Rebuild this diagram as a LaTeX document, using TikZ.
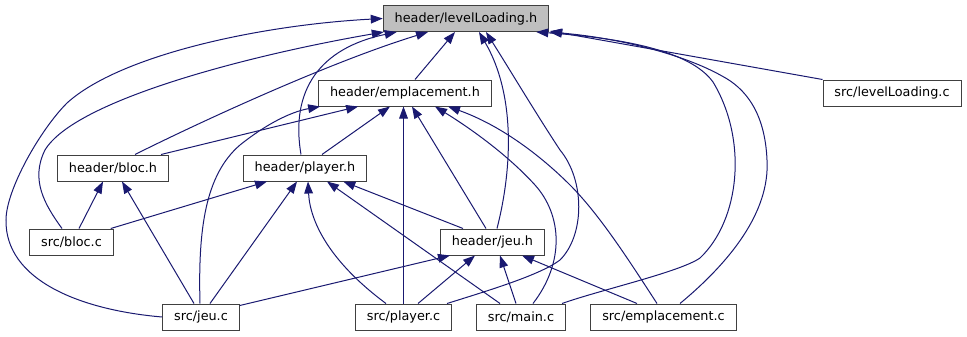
\documentclass[tikz,border=0pt]{standalone}
\usepackage{fontspec}
\setmainfont{DejaVu Sans}
\usepackage{xcolor}
\usetikzlibrary{positioning,arrows.meta,calc}
\definecolor{incblue}{HTML}{191970}
\definecolor{mainfill}{HTML}{BFBFBF}

\begin{document}
\begin{tikzpicture}[x=0.75pt,y=-0.75pt,
                    file/.style={draw=black!75,line width=0.75pt,fill=white,
                                 minimum height=19.5pt,inner xsep=8.6pt,inner ysep=0pt,
                                 font=\fontsize{9.6}{11}\selectfont},
                    dep/.style={draw=incblue,line width=0.75pt,
                                -{Triangle[length=9pt,width=6.5pt]}}]

  \useasboundingbox (0,0) rectangle (967,336);

  \node[file,fill=mainfill] (LLh)   at (466,18.5)  {header/levelLoading.h};
  \node[file]               (Emh)   at (405,93)    {header/emplacement.h};
  \node[file]               (LLc)   at (892,93)    {src/levelLoading.c};
  \node[file]               (Bloch) at (113,168)   {header/bloc.h};
  \node[file]               (Playh) at (305,168)   {header/player.h};
  \node[file]               (Blocc) at (71.5,242)  {src/bloc.c};
  \node[file]               (Jeuh)  at (492.5,242) {header/jeu.h};
  \node[file]               (Jeuc)  at (201,317)   {src/jeu.c};
  \node[file]               (Playc) at (403.5,317) {src/player.c};
  \node[file]               (Mainc) at (521,317)   {src/main.c};
  \node[file]               (Empc)  at (663.5,317) {src/emplacement.c};

  % who includes header/levelLoading.h
  \draw[dep] ($(Emh.north)+(10,0)$) -- ($(LLh.south)+(-11,0)$);
  \draw[dep] ($(Bloch.north)+(22,0)$) .. controls (200,122) and (330,62) .. ($(LLh.south)+(-38,0)$);
  \draw[dep] ($(Blocc.north)+(-9.5,0)$) .. controls (45,205) and (30,180) .. (45,150)
             .. controls (75,100) and (250,55) .. ($(LLh.south west)+(1,0)$);
  \draw[dep] (Jeuc.west) .. controls (80,310) and (5,280) .. (6,220)
             .. controls (6,190) and (40,130) .. (67,103)
             .. controls (120,55) and (260,25) .. (LLh.west);
  \draw[dep] ($(Playh.north)+(-4,0)$) .. controls (290,90) and (320,48) .. ($(LLh.south west)+(14,0)$);
  \draw[dep] ($(Jeuh.north)+(4.5,0)$) .. controls (512,170) and (516,95) .. ($(LLh.south)+(13,0)$);
  \draw[dep] ($(Playc.north east)+(-5,0)$) .. controls (490,290) and (540,275) .. (560,260)
             .. controls (585,235) and (585,180) .. (560,150)
             .. controls (535,112) and (510,70) .. ($(LLh.south)+(20,0)$);
  \draw[dep] ($(Mainc.north east)+(-4,0)$) .. controls (600,290) and (680,272) .. (700,258)
             .. controls (740,220) and (748,140) .. (713,82)
             .. controls (690,50) and (620,38) .. ($(LLh.south east)+(-13,0)$);
  \draw[dep] ($(Empc.north)+(16.5,0)$) .. controls (730,262) and (770,212) .. (767,160)
             .. controls (765,112) and (745,88) .. (722,76)
             .. controls (685,55) and (620,38) .. (LLh.south east);
  \draw[dep] (LLc.north west) -- ($(LLh.south east)+(1,-1)$);

  % who includes header/emplacement.h
  \draw[dep] ($(Bloch.north east)+(-8,0)$) -- ($(Emh.south west)+(40,0)$);
  \draw[dep] ($(Jeuc.north)+(-1,0)$) .. controls (198,230) and (205,175) .. (240,145)
             .. controls (265,125) and (290,112) .. ($(Emh.south west)+(2,0)$);
  \draw[dep] ($(Playh.north)+(17,0)$) -- ($(Emh.south)+(-15,0)$);
  \draw[dep] (Playc.north) -- (Playc.north |- Emh.south);
  \draw[dep] ($(Jeuh.north)+(-6.5,0)$) -- ($(Emh.south)+(7,0)$);
  \draw[dep] ($(Mainc.north)+(12,0)$) .. controls (565,262) and (562,215) .. (535,185)
             .. controls (505,152) and (465,125) .. ($(Emh.south)+(30,0)$);
  \draw[dep] ($(Empc.north)+(-6.5,0)$) .. controls (630,262) and (600,215) .. (570,185)
             .. controls (540,155) and (500,125) .. ($(Emh.south)+(43,0)$);

  % header/bloc.h
  \draw[dep] ($(Blocc.north)+(7.5,0)$) -- ($(Bloch.south)+(-10,0)$);
  \draw[dep] ($(Jeuc.north)+(-7,0)$) -- ($(Bloch.south)+(9,0)$);

  % header/player.h
  \draw[dep] ($(Blocc.north east)+(-3,0)$) -- ($(Playh.south)+(-38,0)$);
  \draw[dep] ($(Jeuc.north)+(9,0)$) -- ($(Playh.south)+(-8,0)$);
  \draw[dep] ($(Playc.north)+(-17.5,0)$) .. controls (330,262) and (310,222) .. ($(Playh.south)+(3,0)$);
  \draw[dep] ($(Mainc.north)+(-21,0)$) -- ($(Playh.south)+(22,0)$);
  \draw[dep] ($(Jeuh.north)+(-29.5,0)$) -- ($(Playh.south east)+(-24,0)$);

  % header/jeu.h
  \draw[dep] ($(Jeuc.north east)+(0,2)$) -- ($(Jeuh.south west)+(10,0)$);
  \draw[dep] ($(Playc.north)+(14.5,0)$) -- ($(Jeuh.south)+(-17.5,0)$);
  \draw[dep] ($(Mainc.north)+(-5,0)$) -- ($(Jeuh.south)+(7.5,0)$);
  \draw[dep] ($(Empc.north)+(-26.5,0)$) -- ($(Jeuh.south)+(29.5,0)$);
\end{tikzpicture}
\end{document}
